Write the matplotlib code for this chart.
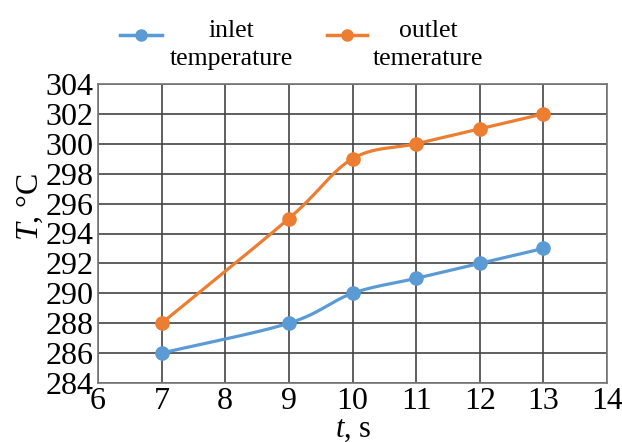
"""Inlet and outlet temperature over time."""

import matplotlib

matplotlib.use("Agg")
import matplotlib.pyplot as plt
from matplotlib.lines import Line2D
import numpy as np

time_s = [7, 9, 10, 11, 12, 13]
inlet_temp = [286, 288, 290, 291, 292, 293]
outlet_temp = [288, 295, 299, 300, 301, 302]

x_ticks = list(range(6, 15))
y_ticks = list(range(284, 305, 2))

BLUE = "#5B9BD5"
ORANGE = "#ED7D31"

W, H = 622, 442


def smooth(x, y, n=30):
    """Catmull-Rom curve through the points, like Excel's smoothed line."""
    x = np.asarray(x, float)
    y = np.asarray(y, float)
    px = np.concatenate([[2 * x[0] - x[1]], x, [2 * x[-1] - x[-2]]])
    py = np.concatenate([[2 * y[0] - y[1]], y, [2 * y[-1] - y[-2]]])
    xs, ys = [], []
    t = np.linspace(0, 1, n)
    for i in range(1, len(px) - 2):
        for p, out in ((px, xs), (py, ys)):
            p0, p1, p2, p3 = p[i - 1], p[i], p[i + 1], p[i + 2]
            out.extend(
                0.5 * ((2 * p1) + (-p0 + p2) * t
                       + (2 * p0 - 5 * p1 + 4 * p2 - p3) * t ** 2
                       + (-p0 + 3 * p1 - 3 * p2 + p3) * t ** 3)
            )
    return xs, ys


plt.rcParams["font.family"] = "Liberation Serif"
plt.rcParams["mathtext.fontset"] = "custom"
plt.rcParams["mathtext.it"] = "Liberation Serif:italic"
plt.rcParams["mathtext.rm"] = "Liberation Serif"

fig = plt.figure(figsize=(W / 100, H / 100), dpi=100)
ax = fig.add_axes([98 / W, 1 - 383 / H, (607 - 98) / W, (383 - 84) / H])

for y, color in ((inlet_temp, BLUE), (outlet_temp, ORANGE)):
    sx, sy = smooth(time_s, y)
    ax.plot(sx, sy, color=color, lw=2.3, solid_capstyle="round")
    ax.plot(time_s, y, "o", color=color, ms=9.5)

ax.set_xlim(6, 14)
ax.set_ylim(284, 304)
ax.set_xticks(x_ticks)
ax.set_yticks(y_ticks)
ax.tick_params(labelsize=23, length=0)
ax.tick_params(axis="x", pad=3)
ax.tick_params(axis="y", pad=3)
ax.grid(True, color="#444444", lw=1.2)
ax.set_axisbelow(True)
for s in ax.spines.values():
    s.set_color("#777777")
    s.set_linewidth(1.2)

# axis titles placed at the reference pixel positions
fig.text(353 / W, 1 - 429 / H, r"$t$, s", fontsize=22,
         ha="center", va="center")
fig.text(30 / W, 1 - 207 / H, r"$T$, °C", fontsize=23,
         ha="center", va="center", rotation=90)

# legend drawn by hand: handle on the first text line, text centred in two lines
legend_items = [
    (BLUE, "inlet\ntemperature", 120, 162, 231),
    (ORANGE, "outlet\ntemerature", 327, 367, 428),
]
for color, label, x0, x1, xt in legend_items:
    fig.add_artist(
        Line2D([x0 / W, x1 / W], [1 - 35 / H] * 2, color=color, lw=2.5,
               transform=fig.transFigure)
    )
    fig.add_artist(
        Line2D([(x0 + x1) / 2 / W], [1 - 35 / H], marker="o", color=color,
               ms=8, transform=fig.transFigure)
    )
    fig.text(xt / W, 1 - 20 / H, label, ha="center", va="top",
             multialignment="center", fontsize=18.5, linespacing=1.35)

fig.savefig("out.png", dpi=100)
plt.close(fig)
